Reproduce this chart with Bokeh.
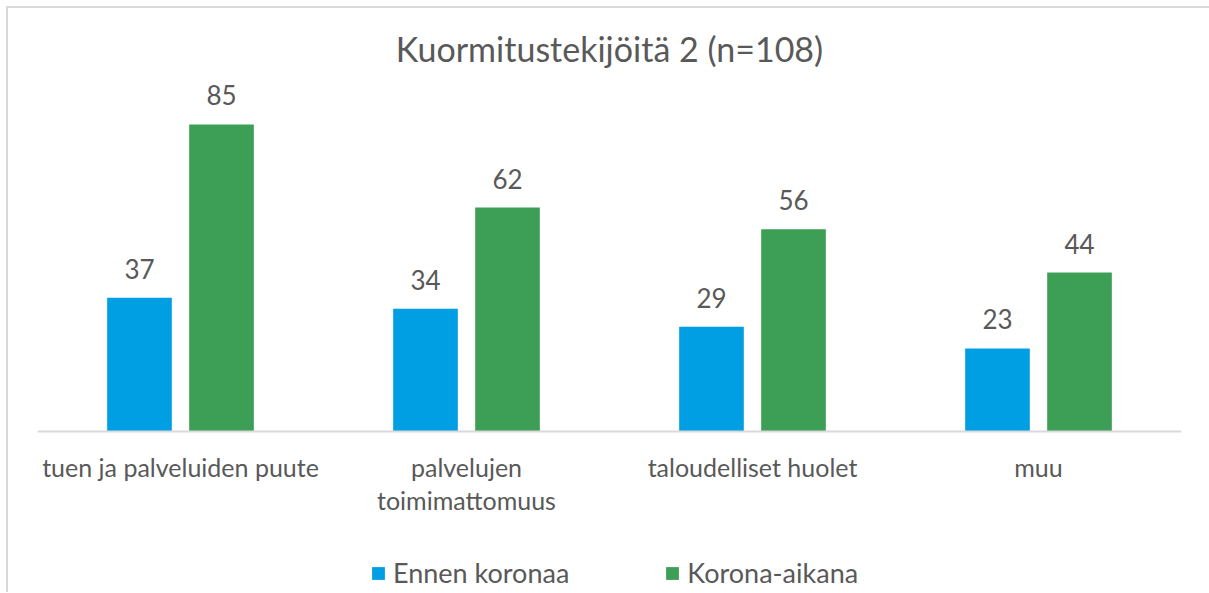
from bokeh.plotting import figure
from bokeh.models import ColumnDataSource, FactorRange, Range1d, Legend, LegendItem
from bokeh.transform import dodge
from bokeh.core.properties import value
from bokeh.embed import file_html
from bokeh.resources import INLINE

title = "Kuormitustekijöitä 2 (n=108)"
categories = ["tuen ja palveluiden puute", "palvelujen\ntoimimattomuus",
              "taloudelliset huolet", "muu"]
series_names = ["Ennen koronaa", "Korona-aikana"]
before = [37, 34, 29, 23]
during = [85, 62, 56, 44]

BLUE = "#009FE3"
GREEN = "#3C9F55"
TXT = "#595959"
FONT = "Lato"

src = ColumnDataSource(dict(cat=categories, before=before, during=during,
                            before_lbl=[str(v) for v in before],
                            during_lbl=[str(v) for v in during]))

# frame extends below the baseline so the legend sits inside it
p = figure(frame_width=1144, frame_height=517, output_backend="svg", toolbar_location=None,
           x_range=FactorRange(*categories, range_padding=0),
           y_range=Range1d(-44.57, 98.56),
           min_border_left=29, min_border_right=28,
           min_border_top=67, min_border_bottom=0)
p.styles = {"margin-left": "6px", "margin-top": "6px",
            "border-left": "2px solid #d9d9d9", "border-top": "2px solid #d9d9d9"}

p.title.text = title
p.title.align = "center"
p.title.text_font = FONT
p.title.text_font_size = "34px"
p.title.text_font_style = "normal"
p.title.text_color = TXT
p.title.standoff = 13

w = 0.226
r1 = p.vbar(x=dodge("cat", -0.1434, range=p.x_range), top="before", width=w,
            bottom=0, source=src, fill_color=BLUE, line_color=None)
r2 = p.vbar(x=dodge("cat", 0.1434, range=p.x_range), top="during", width=w,
            bottom=0, source=src, fill_color=GREEN, line_color=None)

for col, lbl, dx in (("before", "before_lbl", -0.1434), ("during", "during_lbl", 0.1434)):
    p.text(x=dodge("cat", dx, range=p.x_range), y=col, text=lbl, source=src,
           text_align="center", text_baseline="middle", y_offset=-29,
           text_font=value(FONT), text_font_size="26px", text_color=TXT)

p.yaxis.visible = False
p.xgrid.visible = False
p.ygrid.visible = False
p.outline_line_color = None
ax = p.xaxis[0]
ax.fixed_location = 0
ax.axis_line_color = "#d9d9d9"
ax.axis_line_width = 2
ax.major_tick_line_color = None
ax.minor_tick_line_color = None
ax.major_label_text_font = FONT
ax.major_label_text_font_size = "25px"
ax.major_label_text_color = TXT
ax.major_label_text_line_height = 1.12
ax.major_label_standoff = 14

legend = Legend(items=[LegendItem(label=series_names[0], renderers=[r1]),
                       LegendItem(label=series_names[1], renderers=[r2])],
                orientation="horizontal", location=(333, 3),
                label_text_font=FONT, label_text_font_size="27px",
                label_text_color=TXT, glyph_width=16, glyph_height=16,
                label_standoff=7, spacing=95, border_line_color=None,
                background_fill_alpha=0, padding=4, margin=0)
p.add_layout(legend)

open("out.html", "w").write(file_html(p, INLINE))
